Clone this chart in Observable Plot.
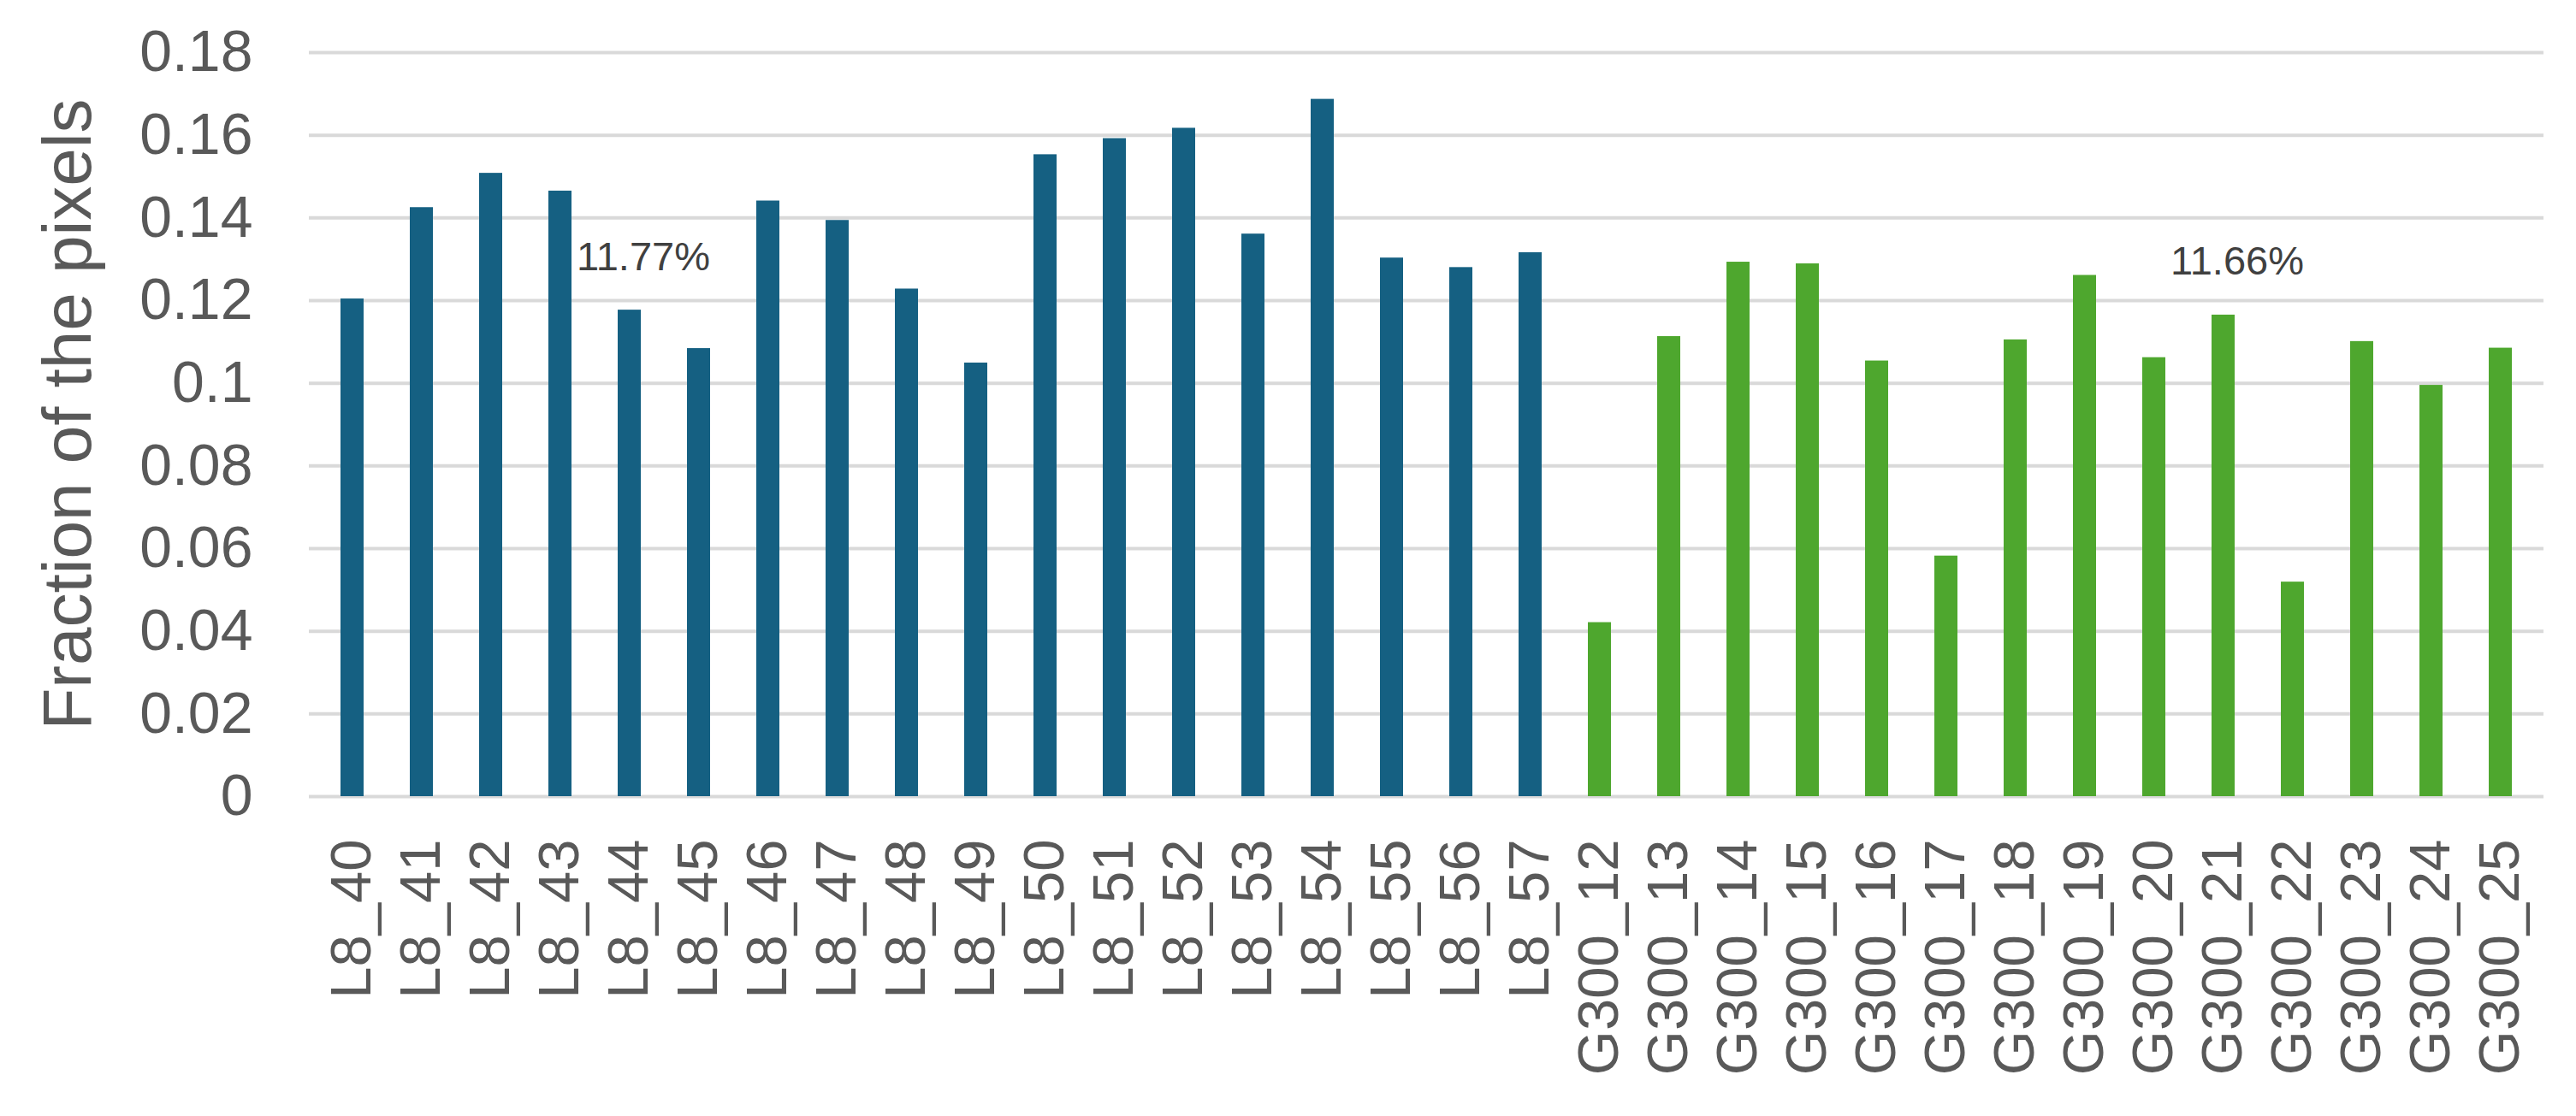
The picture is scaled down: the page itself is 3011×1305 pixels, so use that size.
<!DOCTYPE html>
<html>
<head>
<meta charset="utf-8">
<script src="https://cdn.jsdelivr.net/npm/d3@7"></script>
<script src="https://cdn.jsdelivr.net/npm/@observablehq/plot@0.6"></script>
<style>
  html, body { margin: 0; padding: 0; background: #ffffff; }
  #chart svg { display: block; }
</style>
</head>
<body>
<div id="chart"></div>
<script>
// ---- data ----
const categories = [
  "L8_40","L8_41","L8_42","L8_43","L8_44","L8_45","L8_46","L8_47","L8_48","L8_49",
  "L8_50","L8_51","L8_52","L8_53","L8_54","L8_55","L8_56","L8_57",
  "G300_12","G300_13","G300_14","G300_15","G300_16","G300_17","G300_18","G300_19",
  "G300_20","G300_21","G300_22","G300_23","G300_24","G300_25"
];
const fractions = [
  0.1204, 0.1425, 0.1508, 0.1465, 0.1177, 0.1084, 0.1441, 0.1394, 0.1228, 0.1049,
  0.1553, 0.1592, 0.1617, 0.1361, 0.1687, 0.1303, 0.1280, 0.1316,
  0.0421, 0.1113, 0.1293, 0.1289, 0.1054, 0.0582, 0.1105, 0.1261,
  0.1062, 0.1165, 0.0519, 0.1101, 0.0995, 0.1085
];
const groups = categories.map(c => c.startsWith("L8") ? "L8" : "G300");
const groupNames = ["L8", "G300"];
const groupColors = ["#156082", "#4EA72E"];
const yTicks = [0, 0.02, 0.04, 0.06, 0.08, 0.1, 0.12, 0.14, 0.16, 0.18];
const noteTexts = ["11.77%", "11.66%"];
const noteAt = ["L8_44", "G300_21"];
const noteValues = [0.1305, 0.1295];
const yTitle = "Fraction of the pixels";

const bars = categories.map((c, i) => ({name: c, value: fractions[i], group: groups[i]}));
const notes = noteTexts.map((t, i) => ({text: t, name: noteAt[i], value: noteValues[i]}));

const font = "'Liberation Sans', Arial, sans-serif";

const chart = Plot.plot({
  width: 3011,
  height: 1305,
  marginLeft: 361,
  marginRight: 38,
  marginTop: 61,
  marginBottom: 374,
  style: {fontFamily: font, background: "#ffffff", color: "#595959"},
  x: {domain: categories, paddingInner: 0.67, paddingOuter: 0.335, label: null},
  y: {domain: [0, 0.18], label: null},
  color: {domain: groupNames, range: groupColors},
  marks: [
    Plot.gridY(yTicks, {stroke: "#d9d9d9", strokeOpacity: 1, strokeWidth: 4}),
    Plot.barY(bars, {x: "name", y: "value", fill: "group"}),
    Plot.axisY(yTicks, {
      tickSize: 0, tickPadding: 66, fontSize: 68, fill: "#595959",
      tickFormat: d => String(+d.toFixed(2)), label: null
    }),
    Plot.axisX({
      tickRotate: -90, tickSize: 0, tickPadding: 50, fontSize: 67, fill: "#595959", label: null
    }),
    Plot.text(notes, {
      x: "name", y: "value", text: "text", dx: 16,
      fontSize: 47, fill: "#404040", textAnchor: "middle"
    }),
    Plot.text([yTitle], {
      frameAnchor: "left", text: d => d, rotate: -90, dx: -281, dy: -12,
      fontSize: 80, fill: "#595959", textAnchor: "middle"
    })
  ]
});

document.getElementById("chart").appendChild(chart);
</script>
</body>
</html>
